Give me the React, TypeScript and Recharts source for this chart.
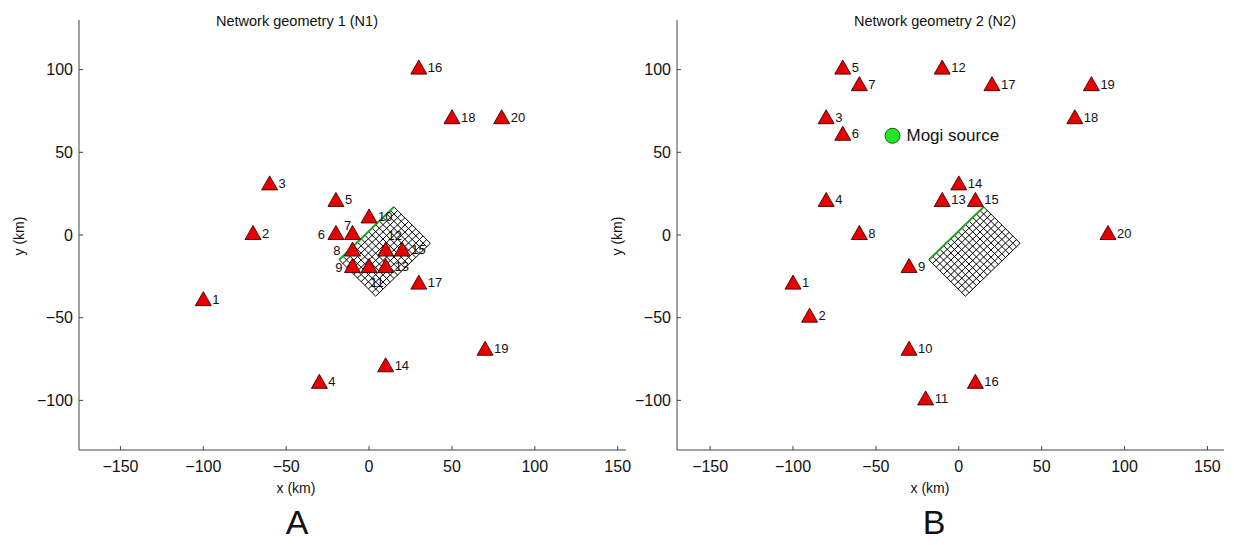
import { ScatterChart, Scatter, XAxis, YAxis, ReferenceLine } from 'recharts';

const FONT = '"Liberation Sans", Arial, Helvetica, sans-serif';

const ticksX = [-150, -100, -50, 0, 50, 100, 150];
const ticksY = [-100, -50, 0, 50, 100];

// station numbers shared by both networks
const stationIds = [1, 2, 3, 4, 5, 6, 7, 8, 9, 10, 11, 12, 13, 14, 15, 16, 17, 18, 19, 20];

// network geometry 1 (km)
const n1X = [-100, -70, -60, -30, -20, -20, -10, -10, -10, 0, 0, 10, 10, 10, 20, 30, 30, 50, 70, 80];
const n1Y = [-40, 0, 30, -90, 20, 0, 0, -10, -20, 10, -20, -10, -20, -80, -10, 100, -30, 70, -70, 70];

// network geometry 2 (km)
const n2X = [-100, -90, -80, -80, -70, -70, -60, -60, -30, -30, -20, -10, -10, 0, 10, 10, 20, 70, 80, 90];
const n2Y = [-30, -50, 70, 20, 100, 60, 90, 0, -20, -70, -100, 100, 20, 30, 20, -90, 90, 70, 90, 0];

// Mogi point source (km)
const mogiX = [-40];
const mogiY = [60];

// fault plane corners: left, top, right, bottom (km)
const faultX = [-18, 15, 37, 4];
const faultY = [-15, 17, -4, -37];
const faultCellsLong = 15;
const faultCellsShort = 10;

type Pt = { x: number; y: number };
type Station = Pt & { id: number };

const makeStations = (xs: number[], ys: number[]): Station[] =>
  stationIds.map((id, i) => ({ id, x: xs[i], y: ys[i] }));

const n1 = makeStations(n1X, n1Y);
const n2 = makeStations(n2X, n2Y);
const mogi = mogiX.map((x, i) => ({ x, y: mogiY[i] }));

// grid segments of the fault patch, spanned from the left corner
const faultGrid = (): [Pt, Pt][] => {
  const p0 = { x: faultX[0], y: faultY[0] };
  const u = { x: faultX[1] - faultX[0], y: faultY[1] - faultY[0] };
  const v = { x: faultX[3] - faultX[0], y: faultY[3] - faultY[0] };
  const segs: [Pt, Pt][] = [];
  for (let i = 0; i <= faultCellsLong; i++) {
    const a = { x: p0.x + (u.x * i) / faultCellsLong, y: p0.y + (u.y * i) / faultCellsLong };
    segs.push([a, { x: a.x + v.x, y: a.y + v.y }]);
  }
  for (let j = 0; j <= faultCellsShort; j++) {
    const a = { x: p0.x + (v.x * j) / faultCellsShort, y: p0.y + (v.y * j) / faultCellsShort };
    segs.push([a, { x: a.x + u.x, y: a.y + u.y }]);
  }
  return segs;
};
const gridSegs = faultGrid();
const trace: [Pt, Pt] = [
  { x: faultX[0], y: faultY[0] },
  { x: faultX[1], y: faultY[1] },
];

// label offsets for crowded stations in network 1
type Place = { dx: number; dy: number; anchor: 'start' | 'middle' | 'end' };
const defaultPlace: Place = { dx: 9, dy: -2, anchor: 'start' };
const n1Places: Record<number, Place> = {
  6: { dx: -11, dy: -1, anchor: 'end' },
  7: { dx: -5, dy: -10, anchor: 'middle' },
  8: { dx: -12, dy: -1, anchor: 'end' },
  9: { dx: -10, dy: -1, anchor: 'end' },
  11: { dx: 8, dy: 14, anchor: 'middle' },
  12: { dx: 9, dy: -16, anchor: 'middle' },
};

const triangle = (places: Record<number, Place>) => (props: any) => {
  const { cx, cy, payload } = props;
  const p = places[payload.id] || defaultPlace;
  return (
    <g>
      <path
        d={`M${cx},${cy - 9.5} L${cx + 8},${cy + 4.5} L${cx - 8},${cy + 4.5} Z`}
        fill="#e80000"
        stroke="#400000"
        strokeWidth={0.9}
      />
      <text
        x={cx + p.dx}
        y={cy + p.dy}
        textAnchor={p.anchor}
        dominantBaseline="central"
        fontSize={13}
        fontFamily={FONT}
        fill="#111"
      >
        {payload.id}
      </text>
    </g>
  );
};

const mogiShape = (props: any) => {
  const { cx, cy } = props;
  return (
    <g>
      <circle cx={cx} cy={cy} r={7.5} fill="#22e622" stroke="#114411" strokeWidth={0.9} />
      <text x={cx + 14} y={cy} dominantBaseline="central" fontSize={17} fontFamily={FONT} fill="#111">
        Mogi source
      </text>
    </g>
  );
};

const tickStyle = { fontSize: 16, fontFamily: FONT, fill: '#111' };
const fmt = (v: number) => (v < 0 ? `\u2212${-v}` : `${v}`);

interface PanelProps {
  left: number;
  width: number;
  plotLeft: number;
  domainX: [number, number];
  stations: Station[];
  places: Record<number, Place>;
  showMogi?: boolean;
}

const Panel = ({ left, width, plotLeft, domainX, stations, places, showMogi }: PanelProps) => (
  <div style={{ position: 'absolute', left, top: 0 }}>
    <ScatterChart
      width={width}
      height={545}
      margin={{ top: 20, right: width - plotLeft - 547, bottom: 65, left: plotLeft - 40 }}
    >
      <XAxis
        type="number"
        dataKey="x"
        domain={domainX}
        ticks={ticksX}
        allowDataOverflow
        height={30}
        stroke="#444"
        tickSize={-4}
        tickMargin={15}
        tick={tickStyle}
        tickFormatter={fmt}
      />
      <YAxis
        type="number"
        dataKey="y"
        domain={[-130, 130]}
        ticks={ticksY}
        allowDataOverflow
        width={40}
        stroke="#444"
        tickSize={-4}
        tickMargin={10}
        tick={tickStyle}
        tickFormatter={fmt}
      />
      {gridSegs.map((s, i) => (
        <ReferenceLine key={i} segment={s} stroke="#000" strokeWidth={1} />
      ))}
      <ReferenceLine segment={trace} stroke="#1aa01a" strokeWidth={2} />
      <Scatter data={stations} shape={triangle(places)} isAnimationActive={false} />
      {showMogi && <Scatter data={mogi} shape={mogiShape} isAnimationActive={false} />}
    </ScatterChart>
  </div>
);

const Labels = () => (
  <svg
    width={1234}
    height={545}
    style={{ position: 'absolute', left: 0, top: 0, pointerEvents: 'none' }}
    fontFamily={FONT}
    fill="#111"
  >
    <text x={297} y={21} textAnchor="middle" dominantBaseline="central" fontSize={14.5}>
      Network geometry 1 (N1)
    </text>
    <text x={935} y={21} textAnchor="middle" dominantBaseline="central" fontSize={14.5}>
      Network geometry 2 (N2)
    </text>
    <text x={296} y={488} textAnchor="middle" dominantBaseline="central" fontSize={14}>
      x (km)
    </text>
    <text x={930} y={488} textAnchor="middle" dominantBaseline="central" fontSize={14}>
      x (km)
    </text>
    <text x={297} y={522} textAnchor="middle" dominantBaseline="central" fontSize={34}>
      A
    </text>
    <text x={934} y={522} textAnchor="middle" dominantBaseline="central" fontSize={34}>
      B
    </text>
    <text
      x={19}
      y={236}
      textAnchor="middle"
      dominantBaseline="central"
      fontSize={14}
      transform="rotate(-90 19 236)"
    >
      y (km)
    </text>
    <text
      x={617}
      y={236}
      textAnchor="middle"
      dominantBaseline="central"
      fontSize={14}
      transform="rotate(-90 617 236)"
    >
      y (km)
    </text>
  </svg>
);

export default function App() {
  return (
    <div style={{ position: 'absolute', left: 0, top: 0, width: 1234, height: 545, background: '#fff' }}>
      <Panel left={0} width={640} plotLeft={79} domainX={[-175, 155]} stations={n1} places={n1Places} />
      <Panel
        left={600}
        width={634}
        plotLeft={77}
        domainX={[-170, 160]}
        stations={n2}
        places={{}}
        showMogi
      />
      <Labels />
    </div>
  );
}
